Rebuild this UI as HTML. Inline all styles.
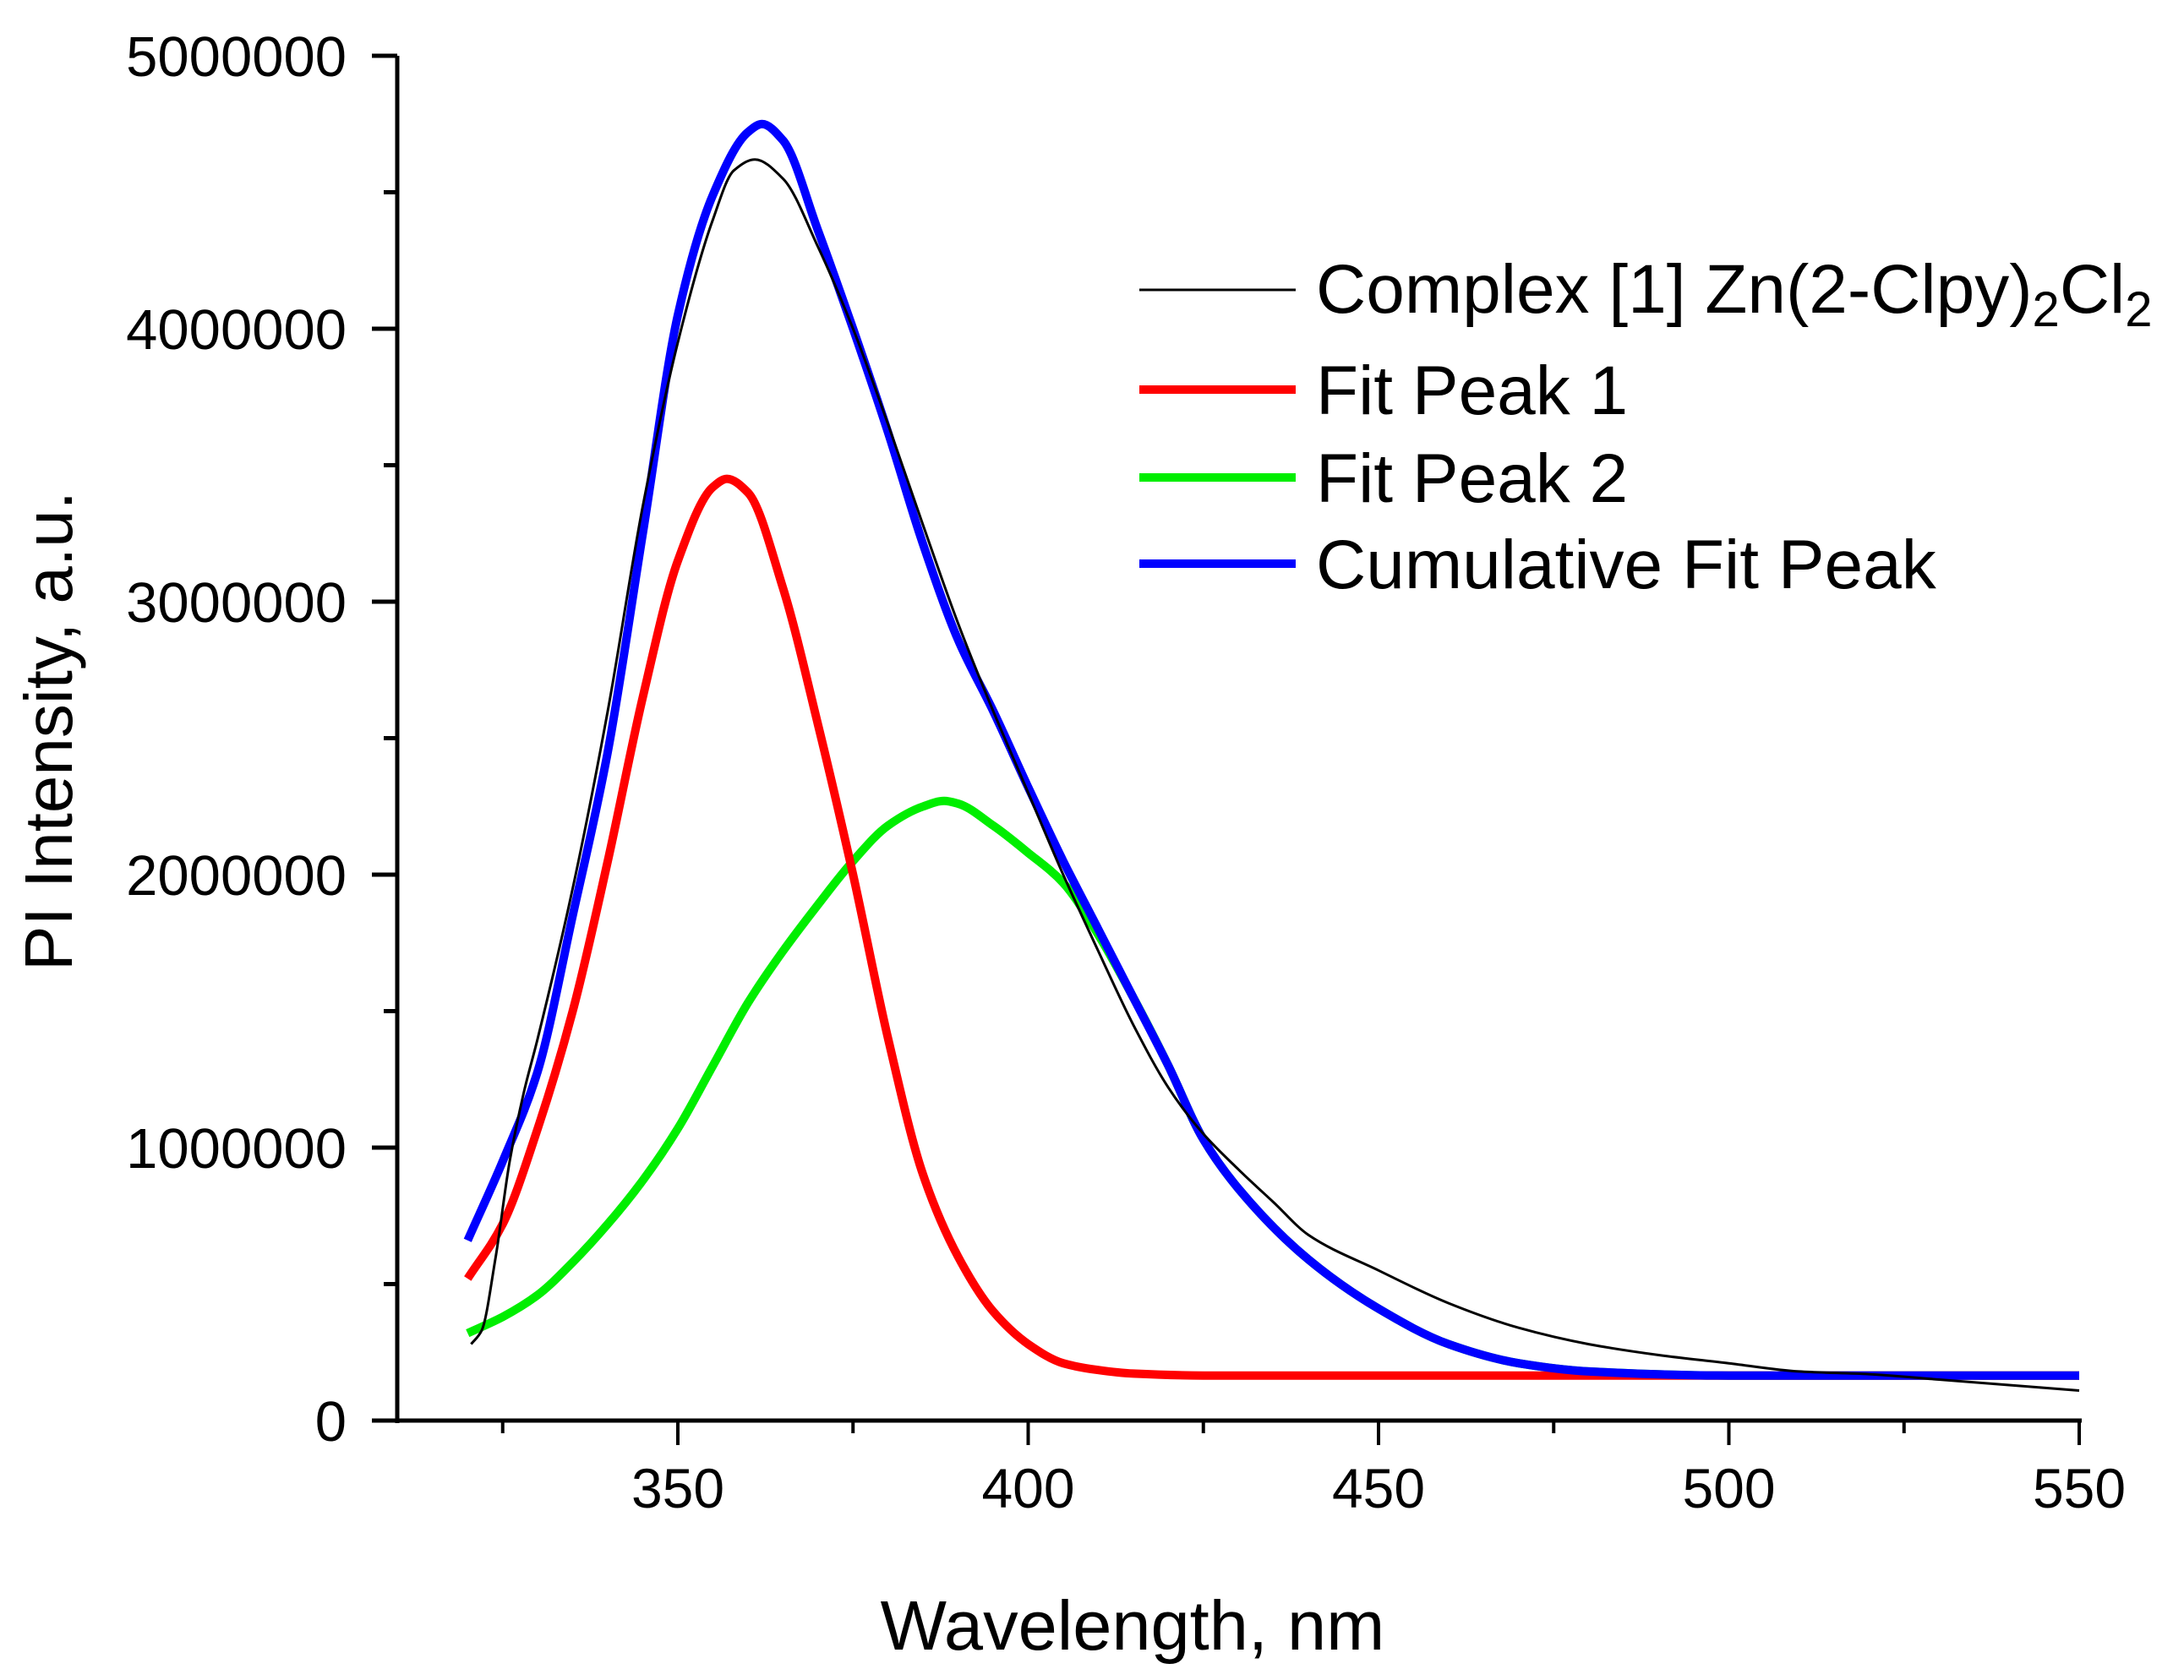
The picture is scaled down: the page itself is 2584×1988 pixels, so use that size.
<!DOCTYPE html>
<html><head><meta charset="utf-8"><style>
html,body{margin:0;padding:0;background:#fff;}
svg{display:block;font-family:"Liberation Sans",Arial,sans-serif;}
</style></head><body>
<svg id="chart" width="2584" height="1988" viewBox="0 0 2584 1988" xmlns="http://www.w3.org/2000/svg">
<rect x="0" y="0" width="2584" height="1988" fill="#fff"/>
<g id="axes"></g>
<g id="series"></g>
<text x="1340" y="1952" font-size="83" text-anchor="middle" fill="#000">Wavelength, nm</text>
<text transform="translate(85,865) rotate(-90)" font-size="80" text-anchor="middle" fill="#000">PI Intensity, a.u.</text>
<g id="legend">
 <g>
  <line x1="1348" y1="343" x2="1533" y2="343" stroke="#000" stroke-width="3"/>
  <text x="1557" y="370" font-size="82" fill="#000">Complex [1] Zn(2-Clpy)<tspan font-size="58" dy="16">2</tspan><tspan dy="-16">Cl</tspan><tspan font-size="58" dy="16">2</tspan></text>
 </g>
 <g>
  <line x1="1348" y1="461" x2="1533" y2="461" stroke="#ff0000" stroke-width="10"/>
  <text x="1557" y="490" font-size="82" fill="#000">Fit Peak 1</text>
 </g>
 <g>
  <line x1="1348" y1="565" x2="1533" y2="565" stroke="#00ee00" stroke-width="10"/>
  <text x="1557" y="594" font-size="82" fill="#000">Fit Peak 2</text>
 </g>
 <g>
  <line x1="1348" y1="667" x2="1533" y2="667" stroke="#0000ff" stroke-width="10"/>
  <text x="1557" y="696" font-size="82" fill="#000">Cumulative Fit Peak</text>
 </g>
</g>
</svg>
<script>
// ---- data (values in millions) ----
const xTicks = [350, 400, 450, 500, 550];
const xMinor = [325, 375, 425, 475, 525];
const yTicks = [0, 1000000, 2000000, 3000000, 4000000, 5000000];
const yTickLabels = ["0", "1000000", "2000000", "3000000", "4000000", "5000000"];
const yMinor = [500000, 1500000, 2500000, 3500000, 4500000];

const dataX = [320.5,322,324,326,328,330,335,340,345,350,355,358,361,365,370,375,380,385,390,395,400,405,410,415,420,425,430,435,440,450,460,470,480,490,500,510,520,530,540,550];
const dataY = [0.28,0.33,0.6,0.95,1.2,1.4,1.95,2.6,3.35,3.95,4.4,4.58,4.62,4.55,4.3,4.0,3.65,3.28,2.92,2.6,2.3,2.0,1.72,1.45,1.22,1.05,0.92,0.80,0.68,0.55,0.43,0.34,0.28,0.24,0.21,0.18,0.17,0.15,0.13,0.11];

const peak1X = [320,325,330,335,340,345,350,355,357,360,365,370,375,380,385,390,395,400,405,410,415,425,550];
const peak1Y = [0.52,0.72,1.07,1.50,2.05,2.65,3.15,3.42,3.45,3.40,3.05,2.55,2.0,1.40,0.90,0.60,0.40,0.28,0.21,0.185,0.172,0.165,0.165];

const peak2X = [320,325,330,335,340,345,350,355,360,365,370,375,380,385,388,390,395,400,405,410,415,420,425,430,440,450,460,470,480,500,550];
const peak2Y = [0.32,0.38,0.46,0.58,0.72,0.88,1.07,1.30,1.53,1.72,1.89,2.05,2.18,2.25,2.27,2.26,2.18,2.08,1.97,1.78,1.55,1.30,1.03,0.85,0.59,0.41,0.28,0.21,0.18,0.165,0.165];

const cumX = [320,325,330,335,340,345,350,355,360,362,365,370,375,380,385,390,395,400,405,410,415,420,425,430,440,450,460,470,480,500,550];
const cumY = [0.66,0.95,1.28,1.85,2.45,3.25,4.05,4.49,4.72,4.75,4.69,4.36,4.0,3.62,3.21,2.86,2.6,2.32,2.05,1.80,1.55,1.30,1.03,0.85,0.59,0.41,0.28,0.21,0.18,0.165,0.165];

// ---- axis functions ----
const X0 = 470, Y0 = 1681;
function sx(w){ return 802 + (w - 350) * 8.29; }
function sy(v){ return Y0 - v / 1000000 * 323; }
const NS = "http://www.w3.org/2000/svg";
function mk(tag, attrs, parent){
  const e = document.createElementNS(NS, tag);
  for (const k in attrs) e.setAttribute(k, attrs[k]);
  parent.appendChild(e); return e;
}
const axes = document.getElementById('axes');
const yAxis = mk('line', {x1:X0, y1:sy(5000000), x2:X0, y2:Y0+3, stroke:'#000','stroke-width':5}, axes);


const xAxis = mk('line', {x1:X0-30, y1:Y0, x2:sx(550)+3, y2:Y0, stroke:'#000','stroke-width':5}, axes);



yTicks.forEach((v,i)=>{
  const t = mk('line', {x1:X0-30, y1:sy(v), x2:X0, y2:sy(v), stroke:'#000','stroke-width':5}, axes);
  
  
  const l = mk('text', {x:X0-60, y:sy(v)+24, 'font-size':67, 'text-anchor':'end', fill:'#000'}, axes);
  l.textContent = yTickLabels[i];
  
  
});
yMinor.forEach(v=>{
  const t = mk('line', {x1:X0-16, y1:sy(v), x2:X0, y2:sy(v), stroke:'#000','stroke-width':5}, axes);
  
  
});
xTicks.forEach(w=>{
  const t = mk('line', {x1:sx(w), y1:Y0, x2:sx(w), y2:Y0+29, stroke:'#000','stroke-width':4}, axes);
  
  
  const l = mk('text', {x:sx(w), y:Y0+103, 'font-size':66, 'text-anchor':'middle', fill:'#000'}, axes);
  l.textContent = String(w);
  
  
});
xMinor.forEach(w=>{
  const t = mk('line', {x1:sx(w), y1:Y0, x2:sx(w), y2:Y0+15, stroke:'#000','stroke-width':4}, axes);
  
  
});

const series = document.getElementById('series');
// monotone cubic (Fritsch-Carlson) in screen space
function pathOf(xs, ys){
  const px = xs.map(sx), py = ys.map(v=>sy(v*1000000));
  const n = px.length, d = [], m = [];
  for (let i=0;i<n-1;i++) d.push((py[i+1]-py[i])/(px[i+1]-px[i]));
  m[0] = d[0]; m[n-1] = d[n-2];
  for (let i=1;i<n-1;i++){
    if (d[i-1]*d[i] <= 0) m[i] = 0;
    else {
      const h0 = px[i]-px[i-1], h1 = px[i+1]-px[i];
      const w1 = 2*h1+h0, w2 = h1+2*h0;
      m[i] = (w1+w2)/(w1/d[i-1]+w2/d[i]);
    }
  }
  let s = 'M' + px[0].toFixed(1) + ',' + py[0].toFixed(1);
  for (let i=0;i<n-1;i++){
    const h = (px[i+1]-px[i])/3;
    s += ' C' + (px[i]+h).toFixed(1) + ',' + (py[i]+m[i]*h).toFixed(1) + ' ' +
         (px[i+1]-h).toFixed(1) + ',' + (py[i+1]-m[i+1]*h).toFixed(1) + ' ' +
         px[i+1].toFixed(1) + ',' + py[i+1].toFixed(1);
  }
  return s;
}
const p2 = mk('path', {d:pathOf(peak2X, peak2Y), fill:'none', stroke:'#00ee00','stroke-width':10,'stroke-linejoin':'round'}, series);


const p1 = mk('path', {d:pathOf(peak1X, peak1Y), fill:'none', stroke:'#ff0000','stroke-width':10,'stroke-linejoin':'round'}, series);


const pc = mk('path', {d:pathOf(cumX, cumY), fill:'none', stroke:'#0000ff','stroke-width':10,'stroke-linejoin':'round'}, series);


const pd = mk('path', {d:pathOf(dataX, dataY), fill:'none', stroke:'#000','stroke-width':3,'stroke-linejoin':'round'}, series);


</script>
</body></html>
